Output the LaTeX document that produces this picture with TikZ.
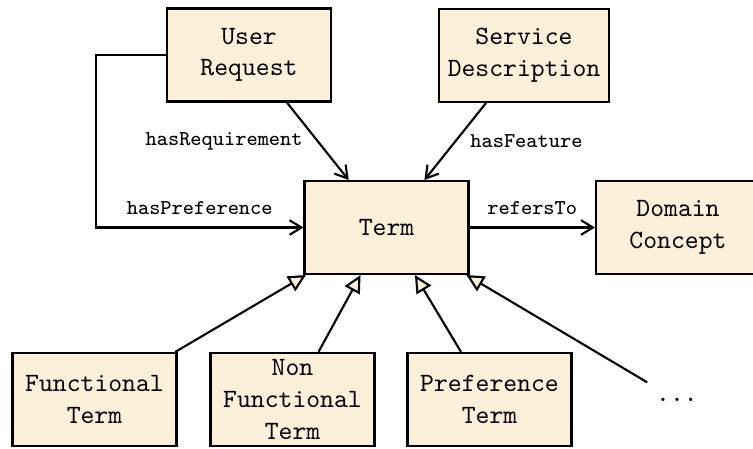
\documentclass[tikz,border=0pt]{standalone}
\usetikzlibrary{arrows.meta}
\definecolor{boxfill}{RGB}{253,240,218}
\begin{document}
\begin{tikzpicture}[x=0.3788pt,y=-0.3788pt,
  box/.style={draw, line width=0.8pt, fill=boxfill, minimum width=62.1pt,
    minimum height=35.2pt, align=center, font=\ttfamily, inner ysep=2.6pt},
  rel/.style={line width=0.8pt, -{Straight Barb[length=4.5pt,width=5.5pt]}},
  gen/.style={line width=0.8pt, -{Triangle[length=6.6pt,width=6.4pt,fill=boxfill]}},
  lbl/.style={font=\ttfamily\footnotesize}]
  % page frame; the right-hand box runs off the edge
  \useasboundingbox (0,0) rectangle (753,448);
  \clip (0,0) rectangle (753,448);

  % classes
  \node[box] (user)    at (249,55)      {User\\Request};
  \node[box] (service) at (524,55.5)    {Service\\Description};
  \node[box] (term)    at (386.5,227.5) {Term};
  \node[box] (domain)  at (678,227.5)   {Domain\\Concept};
  \node[box] (func)    at (94.5,399.5)  {Functional\\Term};
  \node[box] (nonfunc) at (292.5,399.5) {Non\\Functional\\Term};
  \node[box] (pref)    at (489.5,399.5) {Preference\\Term};
  \node[font=\ttfamily, inner sep=0pt, minimum width=30pt, minimum height=13pt]
       (more) at (677,400) {...};
  \coordinate (prefcorner) at (96,227.5);

  % associations
  \draw[rel] (user) -- node[lbl, left=2pt] {hasRequirement} (term);
  \draw[rel] (service) -- node[lbl, right=2pt] {hasFeature} (term);
  \draw[rel] (term) -- node[lbl, above=1pt] {refersTo} (domain);
  \draw[rel] (user.west) -| (prefcorner) -- node[lbl, above=1pt] {hasPreference} (term.west);

  % specialisations
  \draw[gen] (func) -- (term);
  \draw[gen] (nonfunc) -- (term);
  \draw[gen] (pref) -- (term);
  \draw[gen] (more) -- (term);
\end{tikzpicture}
\end{document}
